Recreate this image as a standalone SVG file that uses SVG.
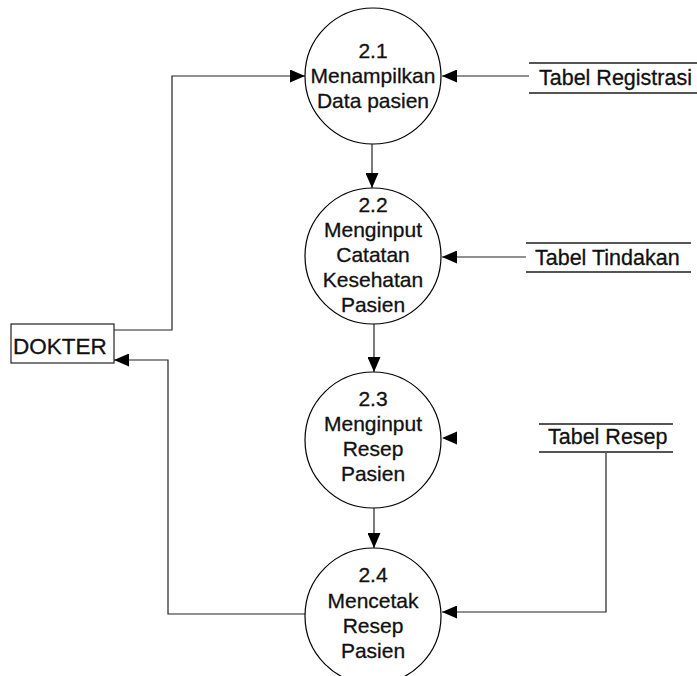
<svg xmlns="http://www.w3.org/2000/svg" width="697" height="676" viewBox="0 0 697 676">
  <style>
    .proc { fill: #ffffff; stroke: #000000; stroke-width: 1.2; }
    .lbl { font-family: "Liberation Sans", Arial, sans-serif; font-size: 21px; fill: #111111; stroke: #111111; stroke-width: 0.3; text-anchor: middle; }
    .ent { fill: #ffffff; stroke: #222222; stroke-width: 1.2; }
    .store { font-family: "Liberation Sans", Arial, sans-serif; font-size: 21.5px; fill: #111111; stroke: #111111; stroke-width: 0.3; }
    .storeline { stroke: #555555; stroke-width: 2; }
    .flow { fill: none; stroke: #222222; stroke-width: 1.2; }
  </style>
  <defs>
    <marker id="arrow" markerUnits="userSpaceOnUse" markerWidth="15" markerHeight="13" refX="15" refY="6.5" orient="auto">
      <path d="M0,0 L15,6.5 L0,13 z" fill="#000000"/>
    </marker>
  </defs>

  <rect width="697" height="676" fill="#ffffff"/>

  <!-- connectors -->
  <g id="connectors">
    <!-- DOKTER to 2.1 -->
    <polyline class="flow" points="114,330 172,330 172,76 305,76" marker-end="url(#arrow)"/>
    <!-- Tabel Registrasi to 2.1 -->
    <line class="flow" x1="529" y1="76" x2="442" y2="76" marker-end="url(#arrow)"/>
    <!-- 2.1 to 2.2 -->
    <line class="flow" x1="372" y1="144" x2="372" y2="188" marker-end="url(#arrow)"/>
    <!-- Tabel Tindakan to 2.2 -->
    <line class="flow" x1="526" y1="257" x2="442" y2="257" marker-end="url(#arrow)"/>
    <!-- 2.2 to 2.3 -->
    <line class="flow" x1="374" y1="324" x2="374" y2="372" marker-end="url(#arrow)"/>
    <!-- arrowhead at 2.3 -->
    <polygon points="442,438 457,431.5 457,444.5" fill="#000000"/>
    <!-- 2.3 to 2.4 -->
    <line class="flow" x1="374" y1="508" x2="374" y2="548" marker-end="url(#arrow)"/>
    <!-- Tabel Resep to 2.4 -->
    <polyline class="flow" points="606,452 606,612 442,612" marker-end="url(#arrow)"/>
    <!-- 2.4 to DOKTER -->
    <polyline class="flow" points="305,614 168,614 168,360 114,360" marker-end="url(#arrow)"/>
  </g>

  <!-- external entity -->
  <g id="dokter">
    <rect class="ent" x="11" y="324" width="103" height="39"/>
    <text x="13" y="354" font-family="'Liberation Sans', Arial, sans-serif" font-size="22.5" fill="#111111" stroke="#111111" stroke-width="0.3">DOKTER</text>
  </g>

  <!-- processes -->
  <g id="p21">
    <circle class="proc" cx="373" cy="76" r="68"/>
    <text class="lbl" x="373" y="58">2.1</text>
    <text class="lbl" x="373" y="83">Menampilkan</text>
    <text class="lbl" x="373" y="108">Data pasien</text>
  </g>
  <g id="p22">
    <circle class="proc" cx="373" cy="256" r="68"/>
    <text class="lbl" x="373" y="212">2.2</text>
    <text class="lbl" x="373" y="237">Menginput</text>
    <text class="lbl" x="373" y="262">Catatan</text>
    <text class="lbl" x="373" y="287">Kesehatan</text>
    <text class="lbl" x="373" y="312">Pasien</text>
  </g>
  <g id="p23">
    <circle class="proc" cx="373" cy="440" r="68"/>
    <text class="lbl" x="373" y="406">2.3</text>
    <text class="lbl" x="373" y="431">Menginput</text>
    <text class="lbl" x="373" y="456">Resep</text>
    <text class="lbl" x="373" y="481">Pasien</text>
  </g>
  <g id="p24">
    <circle class="proc" cx="373" cy="616" r="68"/>
    <text class="lbl" x="373" y="582">2.4</text>
    <text class="lbl" x="373" y="608">Mencetak</text>
    <text class="lbl" x="373" y="633">Resep</text>
    <text class="lbl" x="373" y="658">Pasien</text>
  </g>

  <!-- data stores -->
  <g id="tabel-registrasi">
    <line class="storeline" x1="529" y1="63" x2="697" y2="63" stroke="#888888"/>
    <line class="storeline" x1="529" y1="93" x2="697" y2="93"/>
    <text class="store" x="539" y="85">Tabel Registrasi</text>
  </g>
  <g id="tabel-tindakan">
    <line class="storeline" x1="526" y1="243" x2="691" y2="243"/>
    <line class="storeline" x1="526" y1="272" x2="691" y2="272"/>
    <text class="store" x="535" y="265">Tabel Tindakan</text>
  </g>
  <g id="tabel-resep">
    <line class="storeline" x1="539" y1="424" x2="673" y2="424"/>
    <line class="storeline" x1="539" y1="452" x2="673" y2="452"/>
    <text class="store" x="548" y="444">Tabel Resep</text>
  </g>
</svg>
